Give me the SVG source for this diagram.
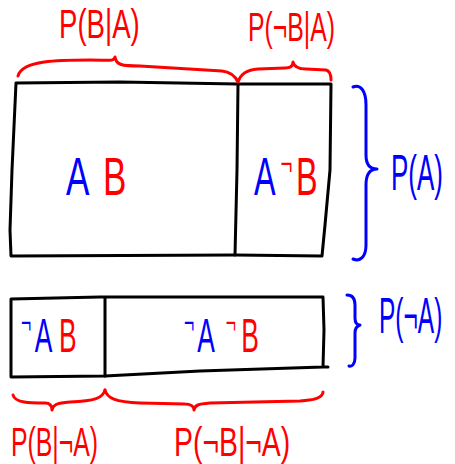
<svg xmlns="http://www.w3.org/2000/svg" width="455" height="464" viewBox="0 0 455 464">
<style>
.box{fill:none;stroke:#000;stroke-width:3;stroke-linejoin:round;stroke-linecap:round}
.rb{fill:none;stroke:#ff0000;stroke-width:3;stroke-linejoin:round;stroke-linecap:round}
.bb{fill:none;stroke:#0000ff;stroke-width:3;stroke-linejoin:round;stroke-linecap:round}
text{font-family:"Liberation Sans","DejaVu Sans",sans-serif;font-weight:normal}
.r{fill:#ff0000}
.b{fill:#0000ff}
</style>
<rect width="455" height="464" fill="#fff"/>
<g id="box-A">
<path class="box" d="M16,83 L120,82 L238,84 L331,84 L330,170 L325,225 L322,256 L235,255 L11,256 L10,230 L12,170 Z"/>
<path class="box" d="M238,84 L237,170 L235,255"/>
<g id="cell-AB">
<text transform="translate(66,195) scale(0.65,1)" font-size="54"><tspan class="b" x="0" y="0">A</tspan><tspan class="r" x="57" y="0">B</tspan></text>
</g>
<g id="cell-AnotB">
<text transform="translate(254,195) scale(0.6,1)" font-size="54"><tspan class="b" x="0" y="0">A</tspan><tspan class="r" x="44" y="-20" font-size="34">¬</tspan><tspan class="r" x="70" y="0">B</tspan></text>
</g>
</g>
<g id="box-notA">
<path class="box" d="M11,299 L100,297 L323,297 L324,330 L323,367 L200,371 L105,376 L11,377 L11,330 Z M323,367 L328,367"/>
<path class="box" d="M105,298 L105,376"/>
<g id="cell-notAB">
<text transform="translate(21,352) scale(0.55,1)" font-size="48"><tspan class="b" x="0" y="-19" font-size="32">¬</tspan><tspan class="b" x="25" y="0">A</tspan><tspan class="r" x="69" y="0">B</tspan></text>
</g>
<g id="cell-notAnotB">
<text transform="translate(184,352) scale(0.55,1)" font-size="48"><tspan class="b" x="0" y="-19" font-size="32">¬</tspan><tspan class="b" x="24" y="0">A</tspan><tspan class="r" x="76" y="-19" font-size="32">¬</tspan><tspan class="r" x="104" y="0">B</tspan></text>
</g>
</g>
<g id="braces">
<path class="rb" d="M18,76 C22,60 60,60 90,60 C108,60 114,62 115,57 C116,65 122,66 140,66 L222,71 C232,72 236,78 238,82 C240,76 244,70 258,69 L285,68 C290,68 293,66 293,62 C294,67 298,69 306,69 L326,70 C330,71 331,75 331,80"/>
<path class="rb" d="M13,395 C15,403 30,403 45,403 C50,403 52,406 52,410 C53,405 56,403 70,402 C95,401 103,398 105,390"/>
<path class="rb" d="M105,390 C107,398 115,402 140,403 L185,404 C190,404 194,406 194,410 C195,405 198,404 210,403 L300,401 C318,400 323,396 323,392"/>
<path class="bb" d="M353,87 C360,84 366,90 366,105 L366,155 C366,165 370,169 377,169 C370,169 366,174 366,185 L366,245 C366,257 360,262 353,259"/>
<path class="bb" d="M347,295 C352,295 355,298 355,305 L355,318 C355,323 357,325 360,325 C357,326 355,328 355,333 L355,358 C355,364 352,367 349,366"/>
</g>
<g id="labels">
<text class="r" transform="translate(59,38) scale(0.69,1)" font-size="40">P(B|A)</text>
<text class="r" transform="translate(248,41) scale(0.62,1)" font-size="40">P(¬B|A)</text>
<text class="b" transform="translate(391,190) scale(0.52,1)" font-size="50">P(A)</text>
<text class="b" transform="translate(379,333) scale(0.49,1)" font-size="50">P(¬A)</text>
<text class="r" transform="translate(11,456) scale(0.62,1)" font-size="40">P(B|¬A)</text>
<text class="r" transform="translate(174,456) scale(0.71,1)" font-size="40">P(¬B|¬A)</text>
</g>
</svg>
